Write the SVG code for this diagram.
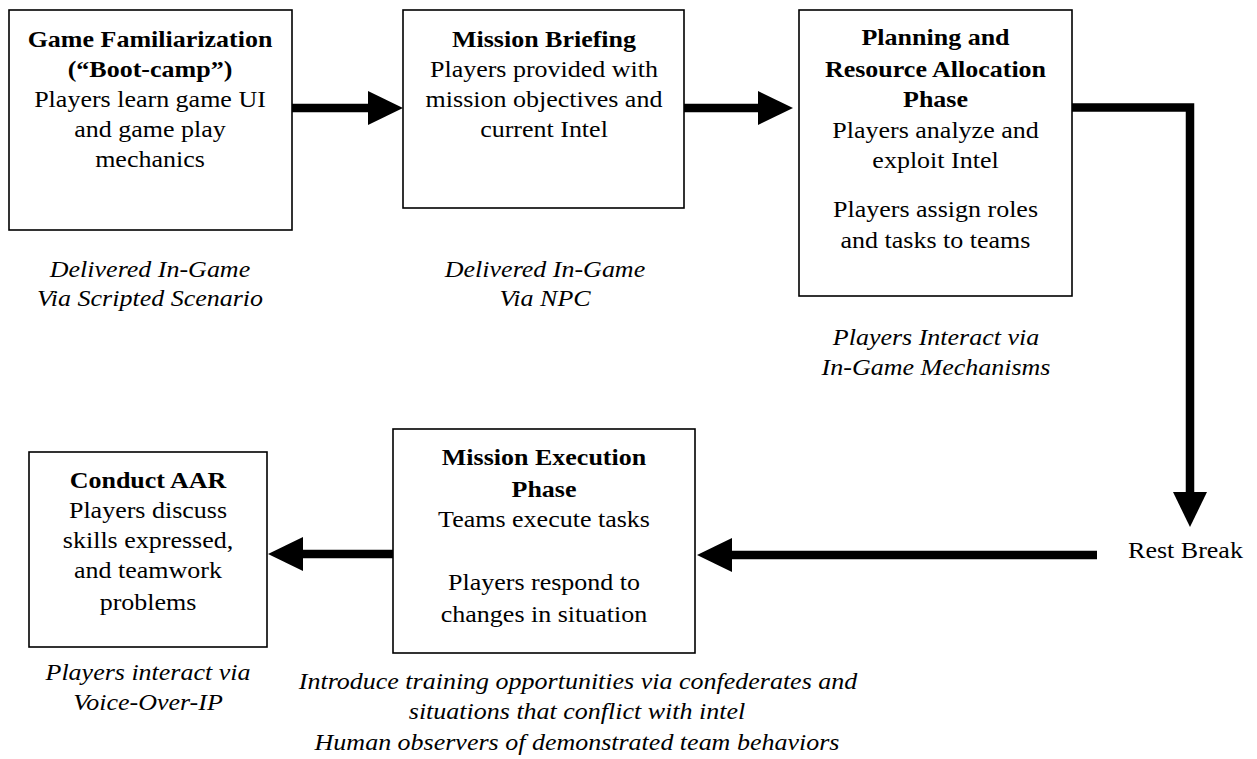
<svg xmlns="http://www.w3.org/2000/svg" width="1257" height="759" viewBox="0 0 1257 759">
<defs>
<style>
.box{fill:#fff;stroke:#000;stroke-width:1.6}
text{font-family:"Liberation Serif","Times New Roman",serif;font-size:26px;fill:#000;text-anchor:middle}
.b{font-weight:bold}
.i{font-style:italic}
.conn{fill:none;stroke:#000;stroke-width:8.5}
</style>
<marker id="ah" markerUnits="userSpaceOnUse" markerWidth="36" markerHeight="36" refX="0" refY="17" orient="auto" overflow="visible">
<path d="M0,0 L35,17 L0,34 Z" fill="#000"/>
</marker>
</defs>
<rect width="1257" height="759" fill="#fff"/>
<g id="connectors">
<line class="conn" x1="292" y1="108" x2="368" y2="108" marker-end="url(#ah)"/>
<line class="conn" x1="684" y1="108" x2="758" y2="108" marker-end="url(#ah)"/>
<polyline class="conn" points="1072,107.5 1190,107.5 1190,492" marker-end="url(#ah)"/>
<line class="conn" x1="1097" y1="555" x2="732" y2="555" marker-end="url(#ah)"/>
<line class="conn" x1="393" y1="554" x2="303" y2="554" marker-end="url(#ah)"/>
</g>
<g id="n1">
<rect class="box" x="9" y="10" width="283" height="220"/>
<text class="b" transform="translate(150 47) scale(1 0.87)">Game Familiarization</text>
<text class="b" transform="translate(150 77) scale(1 0.87)">(“Boot-camp”)</text>
<text transform="translate(150 107) scale(1 0.87)">Players learn game UI</text>
<text transform="translate(150 137) scale(1 0.87)">and game play</text>
<text transform="translate(150 167) scale(1 0.87)">mechanics</text>
<text class="i" transform="translate(150 277) scale(1 0.87)">Delivered In-Game</text>
<text class="i" transform="translate(150 306) scale(1 0.87)">Via Scripted Scenario</text>
</g>
<g id="n2">
<rect class="box" x="403" y="10" width="281" height="198"/>
<text class="b" transform="translate(544 47) scale(1 0.87)">Mission Briefing</text>
<text transform="translate(544 77) scale(1 0.87)">Players provided with</text>
<text transform="translate(544 107) scale(1 0.87)">mission objectives and</text>
<text transform="translate(544 137) scale(1 0.87)">current Intel</text>
<text class="i" transform="translate(545 277) scale(1 0.87)">Delivered In-Game</text>
<text class="i" transform="translate(545 306) scale(1 0.87)">Via NPC</text>
</g>
<g id="n3">
<rect class="box" x="799" y="10" width="273" height="286"/>
<text class="b" transform="translate(935.5 45) scale(1 0.87)">Planning and</text>
<text class="b" transform="translate(935.5 77) scale(1 0.87)">Resource Allocation</text>
<text class="b" transform="translate(935.5 107) scale(1 0.87)">Phase</text>
<text transform="translate(935.5 138) scale(1 0.87)">Players analyze and</text>
<text transform="translate(935.5 168) scale(1 0.87)">exploit Intel</text>
<text transform="translate(935.5 217) scale(1 0.87)">Players assign roles</text>
<text transform="translate(935.5 248) scale(1 0.87)">and tasks to teams</text>
<text class="i" transform="translate(936 345) scale(1 0.87)">Players Interact via</text>
<text class="i" transform="translate(936 375) scale(1 0.87)">In-Game Mechanisms</text>
</g>
<g id="rest">
<text transform="translate(1185.5 558) scale(1 0.87)">Rest Break</text>
</g>
<g id="n4">
<rect class="box" x="393" y="429" width="302" height="224"/>
<text class="b" transform="translate(544 465) scale(1 0.87)">Mission Execution</text>
<text class="b" transform="translate(544 497) scale(1 0.87)">Phase</text>
<text transform="translate(544 527) scale(1 0.87)">Teams execute tasks</text>
<text transform="translate(544 590) scale(1 0.87)">Players respond to</text>
<text transform="translate(544 622) scale(1 0.87)">changes in situation</text>
<text class="i" transform="translate(578 689) scale(1 0.87)">Introduce training opportunities via confederates and</text>
<text class="i" transform="translate(577 719) scale(1 0.87)">situations that conflict with intel</text>
<text class="i" transform="translate(577 750) scale(1 0.87)">Human observers of demonstrated team behaviors</text>
</g>
<g id="n5">
<rect class="box" x="29" y="452" width="238" height="195"/>
<text class="b" transform="translate(148 488) scale(1 0.87)">Conduct AAR</text>
<text transform="translate(148 518) scale(1 0.87)">Players discuss</text>
<text transform="translate(148 548) scale(1 0.87)">skills expressed,</text>
<text transform="translate(148 578) scale(1 0.87)">and teamwork</text>
<text transform="translate(148 610) scale(1 0.87)">problems</text>
<text class="i" transform="translate(148 680) scale(1 0.87)">Players interact via</text>
<text class="i" transform="translate(148 710) scale(1 0.87)">Voice-Over-IP</text>
</g>
</svg>
